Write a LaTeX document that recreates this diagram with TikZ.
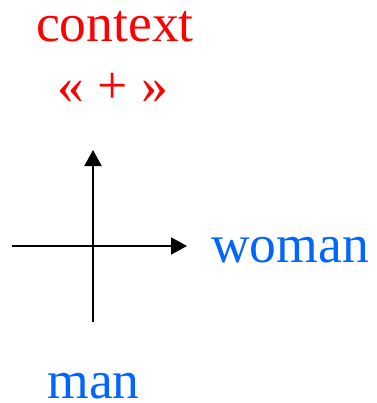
\documentclass[tikz,border=0pt]{standalone}
\usepackage{fontspec}
\setmainfont{Liberation Serif}
\usetikzlibrary{arrows.meta,positioning}
\definecolor{CtxRed}{HTML}{FF0000}
\definecolor{WordBlue}{HTML}{0066FF}

\begin{document}
\begin{tikzpicture}[x=0.02cm,y=-0.02cm,>={Triangle[length=0.32cm,width=0.34cm]},
    every node/.style={inner sep=0pt,anchor=base,font=\fontsize{30.5}{36}\selectfont},
    axis/.style={line width=0.04cm,->}]
  \useasboundingbox (0,0) rectangle (376,403);
  % axes
  \coordinate (origin) at (93,246);
  \coordinate (xstart) at (12,246);
  \coordinate (xend) at (187,246);
  \coordinate (ystart) at (93,322);
  \coordinate (yend) at (93,150);
  \draw[axis] (xstart) -- (xend);
  \draw[axis] (ystart) -- (yend);
  % labels
  \node[text=CtxRed] (context) at (115,41) {context};
  \node[text=CtxRed] (plus) at (113,103) {« + »};
  \node[text=WordBlue] (woman) at (290,262) {woman};
  \node[text=WordBlue] (man) at (93.5,398) {man};
\end{tikzpicture}
\end{document}
